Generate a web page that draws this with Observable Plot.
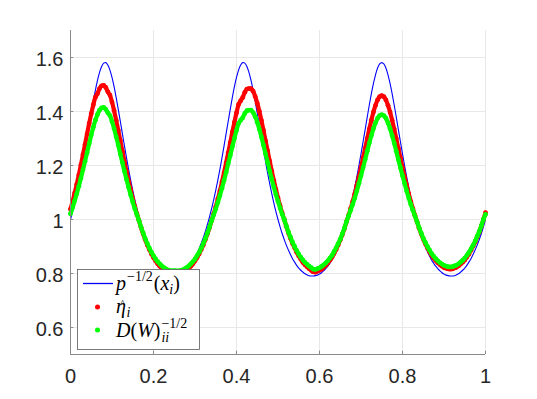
<!DOCTYPE html>
<html>
<head>
<meta charset="utf-8">
<script src="https://cdn.jsdelivr.net/npm/d3@7"></script>
<script src="https://cdn.jsdelivr.net/npm/@observablehq/plot@0.6"></script>
<style>
  html, body { margin: 0; padding: 0; background: #ffffff; }
  #chart { width: 537px; height: 399px; }
</style>
</head>
<body>
<div id="chart"></div>
<script>
// Sample positions x_i
const xValues = [
0,0.005,0.01,0.015,0.02,0.025,0.03,0.035,0.04,0.045,
0.05,0.055,0.06,0.065,0.07,0.075,0.08,0.085,0.09,0.095,
0.1,0.105,0.11,0.115,0.12,0.125,0.13,0.135,0.14,0.145,
0.15,0.155,0.16,0.165,0.17,0.175,0.18,0.185,0.19,0.195,
0.2,0.205,0.21,0.215,0.22,0.225,0.23,0.235,0.24,0.245,
0.25,0.255,0.26,0.265,0.27,0.275,0.28,0.285,0.29,0.295,
0.3,0.305,0.31,0.315,0.32,0.325,0.33,0.335,0.34,0.345,
0.35,0.355,0.36,0.365,0.37,0.375,0.38,0.385,0.39,0.395,
0.4,0.405,0.41,0.415,0.42,0.425,0.43,0.435,0.44,0.445,
0.45,0.455,0.46,0.465,0.47,0.475,0.48,0.485,0.49,0.495,
0.5,0.505,0.51,0.515,0.52,0.525,0.53,0.535,0.54,0.545,
0.55,0.555,0.56,0.565,0.57,0.575,0.58,0.585,0.59,0.595,
0.6,0.605,0.61,0.615,0.62,0.625,0.63,0.635,0.64,0.645,
0.65,0.655,0.66,0.665,0.67,0.675,0.68,0.685,0.69,0.695,
0.7,0.705,0.71,0.715,0.72,0.725,0.73,0.735,0.74,0.745,
0.75,0.755,0.76,0.765,0.77,0.775,0.78,0.785,0.79,0.795,
0.8,0.805,0.81,0.815,0.82,0.825,0.83,0.835,0.84,0.845,
0.85,0.855,0.86,0.865,0.87,0.875,0.88,0.885,0.89,0.895,
0.9,0.905,0.91,0.915,0.92,0.925,0.93,0.935,0.94,0.945,
0.95,0.955,0.96,0.965,0.97,0.975,0.98,0.985,0.99,0.995,
1];

// p^{-1/2}(x_i)  (blue line)
const pInvSqrt = [
1.000,1.029,1.061,1.096,1.133,1.172,1.214,1.258,1.303,1.348,
1.394,1.438,1.479,1.515,1.545,1.567,1.579,1.581,1.572,1.553,
1.526,1.492,1.452,1.409,1.364,1.318,1.273,1.228,1.186,1.146,
1.108,1.073,1.040,1.010,0.982,0.956,0.933,0.912,0.892,0.875,
0.860,0.846,0.834,0.824,0.815,0.807,0.801,0.797,0.793,0.791,
0.791,0.791,0.793,0.797,0.801,0.807,0.815,0.824,0.834,0.846,
0.860,0.875,0.892,0.912,0.933,0.956,0.982,1.010,1.040,1.073,
1.108,1.146,1.186,1.228,1.273,1.318,1.364,1.409,1.452,1.492,
1.526,1.553,1.572,1.581,1.579,1.567,1.545,1.515,1.479,1.438,
1.394,1.348,1.303,1.258,1.214,1.172,1.133,1.096,1.061,1.029,
1.000,0.973,0.948,0.926,0.905,0.887,0.870,0.855,0.842,0.830,
0.820,0.812,0.805,0.799,0.795,0.792,0.791,0.791,0.792,0.794,
0.798,0.803,0.810,0.818,0.827,0.838,0.850,0.865,0.881,0.899,
0.918,0.940,0.964,0.991,1.019,1.051,1.084,1.120,1.159,1.200,
1.243,1.288,1.333,1.379,1.424,1.466,1.504,1.536,1.561,1.576,
1.581,1.576,1.561,1.536,1.504,1.466,1.424,1.379,1.333,1.288,
1.243,1.200,1.159,1.120,1.084,1.051,1.019,0.991,0.964,0.940,
0.918,0.899,0.881,0.865,0.850,0.838,0.827,0.818,0.810,0.803,
0.798,0.794,0.792,0.791,0.791,0.792,0.795,0.799,0.805,0.812,
0.820,0.830,0.842,0.855,0.870,0.887,0.905,0.926,0.948,0.973,
1.000];

// eta-hat_i  (red dots)
const etaHat = [
1.038,1.067,1.098,1.130,1.165,1.202,1.240,1.278,1.317,1.356,
1.392,1.425,1.453,1.466,1.485,1.495,1.497,1.489,1.473,1.461,
1.435,1.404,1.368,1.331,1.292,1.253,1.214,1.177,1.142,1.109,
1.077,1.048,1.021,0.996,0.970,0.947,0.926,0.906,0.889,0.873,
0.859,0.847,0.836,0.827,0.819,0.812,0.808,0.804,0.801,0.800,
0.801,0.800,0.800,0.801,0.804,0.808,0.812,0.819,0.827,0.836,
0.847,0.859,0.873,0.889,0.906,0.926,0.947,0.970,0.996,1.021,
1.047,1.076,1.106,1.139,1.173,1.210,1.247,1.285,1.324,1.360,
1.395,1.426,1.440,1.452,1.471,1.483,1.485,1.485,1.475,1.456,
1.431,1.401,1.367,1.330,1.291,1.254,1.216,1.179,1.144,1.111,
1.080,1.051,1.024,1.000,0.975,0.951,0.931,0.911,0.895,0.879,
0.865,0.853,0.841,0.832,0.825,0.818,0.812,0.806,0.805,0.808,
0.812,0.816,0.823,0.830,0.839,0.849,0.860,0.874,0.889,0.906,
0.924,0.944,0.966,0.992,1.015,1.040,1.066,1.095,1.126,1.158,
1.192,1.228,1.263,1.299,1.335,1.368,1.398,1.423,1.443,1.455,
1.459,1.455,1.443,1.423,1.398,1.368,1.335,1.299,1.263,1.228,
1.192,1.158,1.126,1.095,1.066,1.040,1.015,0.992,0.968,0.947,
0.928,0.911,0.895,0.881,0.868,0.857,0.848,0.840,0.833,0.827,
0.822,0.819,0.817,0.816,0.817,0.820,0.823,0.828,0.835,0.842,
0.850,0.861,0.872,0.886,0.901,0.916,0.935,0.954,0.976,1.000,
1.025];

// D(W)_ii^{-1/2}  (green dots)
const degInvSqrt = [
1.021,1.044,1.069,1.095,1.123,1.153,1.184,1.216,1.248,1.281,
1.313,1.342,1.368,1.389,1.405,1.413,1.415,1.408,1.395,1.385,
1.363,1.337,1.307,1.276,1.243,1.211,1.179,1.148,1.119,1.091,
1.065,1.040,1.018,0.996,0.972,0.950,0.930,0.911,0.894,0.879,
0.866,0.854,0.844,0.836,0.828,0.822,0.817,0.813,0.811,0.810,
0.811,0.810,0.810,0.811,0.813,0.817,0.822,0.828,0.836,0.844,
0.854,0.866,0.879,0.894,0.911,0.930,0.950,0.972,0.996,1.017,
1.039,1.063,1.089,1.116,1.145,1.175,1.207,1.238,1.270,1.301,
1.330,1.356,1.368,1.377,1.393,1.403,1.405,1.405,1.396,1.381,
1.360,1.335,1.306,1.275,1.243,1.212,1.180,1.150,1.120,1.093,
1.067,1.043,1.020,1.000,0.976,0.954,0.935,0.916,0.900,0.885,
0.872,0.860,0.850,0.841,0.834,0.827,0.822,0.816,0.815,0.818,
0.821,0.826,0.832,0.839,0.847,0.857,0.867,0.881,0.895,0.911,
0.927,0.947,0.968,0.992,1.013,1.034,1.056,1.080,1.106,1.134,
1.162,1.192,1.222,1.253,1.283,1.311,1.337,1.358,1.375,1.385,
1.388,1.385,1.375,1.358,1.337,1.311,1.283,1.253,1.222,1.192,
1.162,1.134,1.106,1.080,1.056,1.034,1.013,0.992,0.970,0.950,
0.931,0.915,0.900,0.887,0.874,0.864,0.855,0.847,0.840,0.835,
0.830,0.827,0.825,0.824,0.825,0.828,0.831,0.836,0.842,0.849,
0.857,0.867,0.878,0.891,0.905,0.920,0.938,0.956,0.977,1.000,
1.019];

const xTicks = [0, 0.2, 0.4, 0.6, 0.8, 1];
const yTicks = [0.6, 0.8, 1, 1.2, 1.4, 1.6];

const rows = xValues.map((x, i) => ({x, blue: pInvSqrt[i], red: etaHat[i], green: degInvSqrt[i]}));

const axisColor = "#8a8a8a";
const gridColor = "#e8e8e8";
const labelColor = "#262626";
const labelFont = "Liberation Sans, Arial, Helvetica, sans-serif";

const svg = Plot.plot({
  width: 537,
  height: 399,
  marginLeft: 70,
  marginRight: 52,
  marginTop: 30,
  marginBottom: 45,
  x: {domain: [0, 1], axis: null},
  y: {domain: [0.5, 1.7], axis: null},
  style: {background: "#ffffff", fontFamily: labelFont},
  marks: [
    Plot.ruleX(xTicks, {x: d => d, y1: 0.5, y2: 1.7, stroke: gridColor, strokeWidth: 1}),
    Plot.ruleY(yTicks, {y: d => d, x1: 0, x2: 1, stroke: gridColor, strokeWidth: 1}),
    Plot.line(rows, {x: "x", y: "blue", stroke: "#0000ff", strokeWidth: 1.1, curve: "catmull-rom"}),
    // dense marker bands: markers joined into a band, plus the markers themselves
    Plot.line(rows, {x: "x", y: "red", stroke: "#ff0000", strokeWidth: 4.2, strokeLinecap: "round", strokeLinejoin: "round", curve: "catmull-rom"}),
    Plot.dot(rows, {x: "x", y: "red", r: 2.4, fill: "#ff0000", stroke: "none"}),
    Plot.line(rows, {x: "x", y: "green", stroke: "#00ff00", strokeWidth: 4.2, strokeLinecap: "round", strokeLinejoin: "round", curve: "catmull-rom"}),
    Plot.dot(rows, {x: "x", y: "green", r: 2.4, fill: "#00ff00", stroke: "none"}),
    Plot.ruleX([0], {y1: 0.5, y2: 1.7, stroke: axisColor, strokeWidth: 1}),
    Plot.ruleY([0.5], {x1: 0, x2: 1, stroke: axisColor, strokeWidth: 1}),
    Plot.ruleY(yTicks, {y: d => d, x1: 0, x2: 0.008, stroke: axisColor}),
    Plot.ruleX(xTicks, {x: d => d, y1: 0.5, y2: 0.5125, stroke: axisColor}),
    Plot.text(xTicks, {x: d => d, y: 0.5, text: d => String(d), lineAnchor: "top", dy: 14, fontSize: 20, fill: labelColor}),
    Plot.text(yTicks, {x: 0, y: d => d, text: d => String(d), textAnchor: "end", dx: -7, dy: 2, fontSize: 20, fill: labelColor})
  ]
});

document.getElementById("chart").appendChild(svg);

// Legend (inside the axes, lower-left)
const serif = "Liberation Serif, DejaVu Serif, Times New Roman, serif";
const lg = d3.select(svg).append("g")
  .attr("font-family", serif).attr("fill", "#000000").attr("text-anchor", "start");
lg.append("rect")
  .attr("x", 77.5).attr("y", 269.5).attr("width", 122).attr("height", 80)
  .attr("fill", "#ffffff").attr("stroke", "#5a5a5a").attr("stroke-width", 0.8);

lg.append("path").attr("d", "M83,283.5H113")
  .attr("fill", "none").style("stroke", "#0000ff").style("stroke-width", "1.3px");
lg.append("circle").attr("cx", 97.5).attr("cy", 307).attr("r", 2.5).style("fill", "#ff0000");
lg.append("circle").attr("cx", 97.5).attr("cy", 330).attr("r", 2.5).style("fill", "#00ff00");

// Row 1: p^{-1/2}(x_i)
const t1 = lg.append("text").attr("x", 116).attr("y", 290).attr("font-size", 20);
t1.append("tspan").attr("font-style", "italic").text("p");
t1.append("tspan").attr("font-size", 14).attr("dy", -9).attr("dx", 1).text("\u22121/2");
t1.append("tspan").attr("dy", 9).attr("dx", 1).text("(");
t1.append("tspan").attr("font-style", "italic").text("x");
t1.append("tspan").attr("font-style", "italic").attr("font-size", 14).attr("dy", 4).text("i");
t1.append("tspan").attr("dy", -4).text(")");

// Row 2: eta-hat_i (hat placed inside the same text element)
const t2 = lg.append("text").attr("x", 116).attr("y", 313).attr("font-size", 20);
t2.append("tspan").attr("font-style", "italic").text("\u03B7");
const wEta = t2.node().getComputedTextLength();
t2.append("tspan").attr("x", 116 + wEta / 2 + 1.5).attr("dy", -6).attr("font-size", 11)
  .attr("text-anchor", "middle").text("^");
t2.append("tspan").attr("x", 116 + wEta + 0.5).attr("dy", 10).attr("font-style", "italic")
  .attr("font-size", 14).text("i");

// Row 3: D(W)_{ii}^{-1/2}
const t3 = lg.append("text").attr("x", 116).attr("y", 337).attr("font-size", 20);
t3.append("tspan").attr("font-style", "italic").text("D");
t3.append("tspan").text("(");
t3.append("tspan").attr("font-style", "italic").text("W");
t3.append("tspan").text(")");
const w3 = t3.node().getComputedTextLength();
t3.append("tspan").attr("x", 116 + w3 + 1).attr("dy", -9).attr("font-size", 14).text("\u22121/2");
t3.append("tspan").attr("x", 116 + w3 + 1).attr("dy", 14).attr("font-size", 14).attr("font-style", "italic").text("ii");
</script>
</body>
</html>
